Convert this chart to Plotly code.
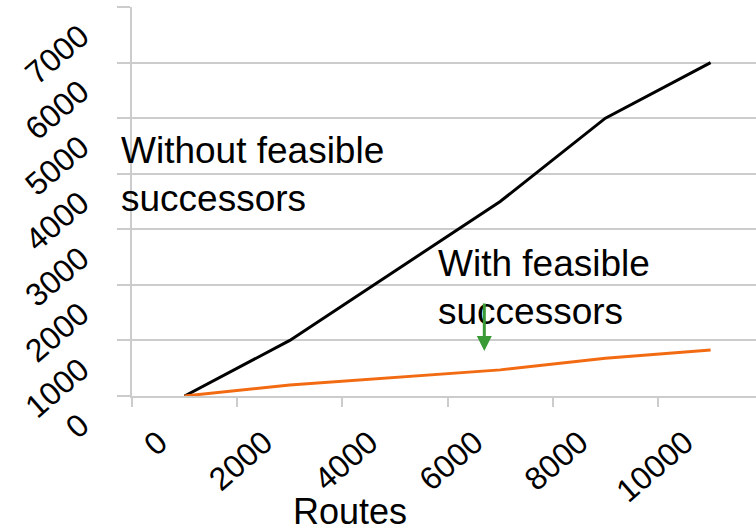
import plotly.graph_objects as go

# Route counts and the matching values for the two configurations
routes_without = [1000, 3000, 7000, 9000, 11000]
values_without = [0, 1000, 3500, 5000, 6000]
routes_with = [1000, 3000, 7000, 9000, 11000]
values_with = [0, 200, 470, 680, 830]

x_ticks = [0, 2000, 4000, 6000, 8000, 10000]
y_ticks = [0, 1000, 2000, 3000, 4000, 5000, 6000, 7000]

FONT = "Arial, Liberation Sans, sans-serif"
GRID = "#cccccc"

fig = go.Figure()
fig.add_trace(go.Scatter(x=routes_without, y=values_without, mode="lines",
                         line=dict(color="black", width=3), showlegend=False))
fig.add_trace(go.Scatter(x=routes_with, y=values_with, mode="lines",
                         line=dict(color="#f26b13", width=3), showlegend=False))

fig.update_xaxes(range=[0, 11863], tickvals=x_ticks, ticktext=[str(v) for v in x_ticks],
                 tickangle=-41, tickfont=dict(family=FONT, size=32, color="black"),
                 showgrid=False, showline=True, linecolor=GRID, linewidth=2,
                 ticks="outside", ticklen=9, tickwidth=2, tickcolor=GRID,
                 ticklabelshift=27, ticklabelstandoff=4, zeroline=False)
fig.update_yaxes(range=[0, 7000], tickvals=y_ticks, ticktext=[str(v) for v in y_ticks],
                 tickangle=-41, tickfont=dict(family=FONT, size=32, color="black"),
                 showgrid=True, gridcolor=GRID, gridwidth=2,
                 showline=True, linecolor=GRID, linewidth=2,
                 ticks="outside", ticklen=13, tickwidth=2, tickcolor=GRID,
                 ticklabelshift=25, ticklabelstandoff=30, zeroline=False)

fig.add_annotation(x=-0.0215, y=4815, xref="paper", yref="y", xanchor="left", yanchor="top",
                   text="Without feasible<br>successors", showarrow=False, align="left",
                   font=dict(family=FONT, size=37, color="black"))
fig.add_annotation(x=5770, y=2795, xref="x", yref="y", xanchor="left", yanchor="top",
                   text="With feasible<br>successors", showarrow=False, align="left",
                   font=dict(family=FONT, size=37, color="black"))
fig.add_annotation(x=6698, y=810, xref="x", yref="y", ax=0, ay=-49,
                   text="", showarrow=True, arrowhead=2, arrowsize=1, arrowwidth=3,
                   arrowcolor="#3a9a35")
fig.add_annotation(x=0.35, y=-0.298, xref="paper", yref="paper", xanchor="center",
                   yanchor="middle", text="Routes", showarrow=False,
                   font=dict(family=FONT, size=36, color="black"))

fig.update_layout(width=756, height=531, margin=dict(l=132, r=0, t=7, b=135),
                  paper_bgcolor="white", plot_bgcolor="white")
fig.write_html("out.html")
